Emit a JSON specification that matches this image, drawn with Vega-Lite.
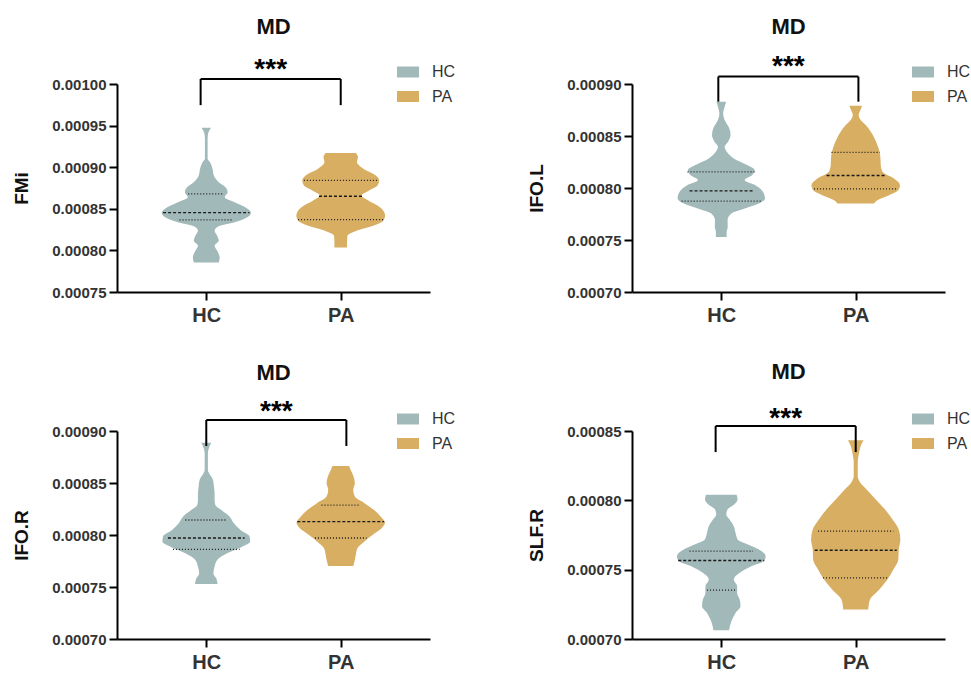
{
  "$schema": "https://vega.github.io/schema/vega-lite/v6.json",
  "padding": {"left": 12, "top": 16, "right": 0, "bottom": 0},
  "datasets": {
    "violin": [
      {"panel":"FMi","group":"HC","v":0.0009473,"w":0.035},
      {"panel":"FMi","group":"HC","v":0.0009404,"w":0.014},
      {"panel":"FMi","group":"HC","v":0.0009344,"w":0.010},
      {"panel":"FMi","group":"HC","v":0.0009223,"w":0.010},
      {"panel":"FMi","group":"HC","v":0.0009102,"w":0.010},
      {"panel":"FMi","group":"HC","v":0.0009062,"w":0.027},
      {"panel":"FMi","group":"HC","v":0.0008982,"w":0.046},
      {"panel":"FMi","group":"HC","v":0.0008901,"w":0.056},
      {"panel":"FMi","group":"HC","v":0.0008820,"w":0.093},
      {"panel":"FMi","group":"HC","v":0.0008760,"w":0.143},
      {"panel":"FMi","group":"HC","v":0.0008700,"w":0.159},
      {"panel":"FMi","group":"HC","v":0.0008639,"w":0.137},
      {"panel":"FMi","group":"HC","v":0.0008579,"w":0.210},
      {"panel":"FMi","group":"HC","v":0.0008519,"w":0.290},
      {"panel":"FMi","group":"HC","v":0.0008450,"w":0.332},
      {"panel":"FMi","group":"HC","v":0.0008398,"w":0.305},
      {"panel":"FMi","group":"HC","v":0.0008337,"w":0.211},
      {"panel":"FMi","group":"HC","v":0.0008289,"w":0.093},
      {"panel":"FMi","group":"HC","v":0.0008237,"w":0.062},
      {"panel":"FMi","group":"HC","v":0.0008176,"w":0.081},
      {"panel":"FMi","group":"HC","v":0.0008116,"w":0.093},
      {"panel":"FMi","group":"HC","v":0.0008056,"w":0.062},
      {"panel":"FMi","group":"HC","v":0.0007995,"w":0.081},
      {"panel":"FMi","group":"HC","v":0.0007915,"w":0.100},
      {"panel":"FMi","group":"HC","v":0.0007854,"w":0.092},
      {"panel":"FMi","group":"PA","v":0.0009171,"w":0.112},
      {"panel":"FMi","group":"PA","v":0.0009122,"w":0.128},
      {"panel":"FMi","group":"PA","v":0.0009062,"w":0.121},
      {"panel":"FMi","group":"PA","v":0.0008982,"w":0.168},
      {"panel":"FMi","group":"PA","v":0.0008901,"w":0.261},
      {"panel":"FMi","group":"PA","v":0.0008841,"w":0.286},
      {"panel":"FMi","group":"PA","v":0.0008780,"w":0.274},
      {"panel":"FMi","group":"PA","v":0.0008720,"w":0.211},
      {"panel":"FMi","group":"PA","v":0.0008659,"w":0.155},
      {"panel":"FMi","group":"PA","v":0.0008599,"w":0.205},
      {"panel":"FMi","group":"PA","v":0.0008519,"w":0.292},
      {"panel":"FMi","group":"PA","v":0.0008418,"w":0.330},
      {"panel":"FMi","group":"PA","v":0.0008357,"w":0.317},
      {"panel":"FMi","group":"PA","v":0.0008297,"w":0.243},
      {"panel":"FMi","group":"PA","v":0.0008237,"w":0.118},
      {"panel":"FMi","group":"PA","v":0.0008176,"w":0.050},
      {"panel":"FMi","group":"PA","v":0.0008096,"w":0.047},
      {"panel":"FMi","group":"PA","v":0.0008035,"w":0.047},

      {"panel":"IFO.L","group":"HC","v":0.0008830,"w":0.036},
      {"panel":"IFO.L","group":"HC","v":0.0008782,"w":0.025},
      {"panel":"IFO.L","group":"HC","v":0.0008717,"w":0.014},
      {"panel":"IFO.L","group":"HC","v":0.0008653,"w":0.025},
      {"panel":"IFO.L","group":"HC","v":0.0008573,"w":0.060},
      {"panel":"IFO.L","group":"HC","v":0.0008509,"w":0.069},
      {"panel":"IFO.L","group":"HC","v":0.0008445,"w":0.051},
      {"panel":"IFO.L","group":"HC","v":0.0008396,"w":0.025},
      {"panel":"IFO.L","group":"HC","v":0.0008348,"w":0.041},
      {"panel":"IFO.L","group":"HC","v":0.0008284,"w":0.093},
      {"panel":"IFO.L","group":"HC","v":0.0008220,"w":0.192},
      {"panel":"IFO.L","group":"HC","v":0.0008172,"w":0.248},
      {"panel":"IFO.L","group":"HC","v":0.0008124,"w":0.230},
      {"panel":"IFO.L","group":"HC","v":0.0008075,"w":0.174},
      {"panel":"IFO.L","group":"HC","v":0.0008027,"w":0.254},
      {"panel":"IFO.L","group":"HC","v":0.0007963,"w":0.310},
      {"panel":"IFO.L","group":"HC","v":0.0007899,"w":0.325},
      {"panel":"IFO.L","group":"HC","v":0.0007851,"w":0.279},
      {"panel":"IFO.L","group":"HC","v":0.0007803,"w":0.174},
      {"panel":"IFO.L","group":"HC","v":0.0007754,"w":0.074},
      {"panel":"IFO.L","group":"HC","v":0.0007690,"w":0.047},
      {"panel":"IFO.L","group":"HC","v":0.0007626,"w":0.048},
      {"panel":"IFO.L","group":"HC","v":0.0007578,"w":0.040},
      {"panel":"IFO.L","group":"HC","v":0.0007530,"w":0.040},
      {"panel":"IFO.L","group":"PA","v":0.0008791,"w":0.047},
      {"panel":"IFO.L","group":"PA","v":0.0008750,"w":0.035},
      {"panel":"IFO.L","group":"PA","v":0.0008701,"w":0.022},
      {"panel":"IFO.L","group":"PA","v":0.0008653,"w":0.037},
      {"panel":"IFO.L","group":"PA","v":0.0008605,"w":0.074},
      {"panel":"IFO.L","group":"PA","v":0.0008541,"w":0.112},
      {"panel":"IFO.L","group":"PA","v":0.0008477,"w":0.140},
      {"panel":"IFO.L","group":"PA","v":0.0008413,"w":0.161},
      {"panel":"IFO.L","group":"PA","v":0.0008348,"w":0.177},
      {"panel":"IFO.L","group":"PA","v":0.0008284,"w":0.184},
      {"panel":"IFO.L","group":"PA","v":0.0008220,"w":0.186},
      {"panel":"IFO.L","group":"PA","v":0.0008156,"w":0.199},
      {"panel":"IFO.L","group":"PA","v":0.0008091,"w":0.285},
      {"panel":"IFO.L","group":"PA","v":0.0008027,"w":0.329},
      {"panel":"IFO.L","group":"PA","v":0.0007979,"w":0.316},
      {"panel":"IFO.L","group":"PA","v":0.0007931,"w":0.248},
      {"panel":"IFO.L","group":"PA","v":0.0007883,"w":0.161},
      {"panel":"IFO.L","group":"PA","v":0.0007851,"w":0.136},

      {"panel":"IFO.R","group":"HC","v":0.0008888,"w":0.037},
      {"panel":"IFO.R","group":"HC","v":0.0008833,"w":0.019},
      {"panel":"IFO.R","group":"HC","v":0.0008785,"w":0.012},
      {"panel":"IFO.R","group":"HC","v":0.0008625,"w":0.012},
      {"panel":"IFO.R","group":"HC","v":0.0008593,"w":0.021},
      {"panel":"IFO.R","group":"HC","v":0.0008529,"w":0.050},
      {"panel":"IFO.R","group":"HC","v":0.0008465,"w":0.057},
      {"panel":"IFO.R","group":"HC","v":0.0008401,"w":0.062},
      {"panel":"IFO.R","group":"HC","v":0.0008337,"w":0.062},
      {"panel":"IFO.R","group":"HC","v":0.0008288,"w":0.067},
      {"panel":"IFO.R","group":"HC","v":0.0008240,"w":0.112},
      {"panel":"IFO.R","group":"HC","v":0.0008176,"w":0.174},
      {"panel":"IFO.R","group":"HC","v":0.0008112,"w":0.205},
      {"panel":"IFO.R","group":"HC","v":0.0008048,"w":0.254},
      {"panel":"IFO.R","group":"HC","v":0.0007984,"w":0.323},
      {"panel":"IFO.R","group":"HC","v":0.0007936,"w":0.326},
      {"panel":"IFO.R","group":"HC","v":0.0007888,"w":0.267},
      {"panel":"IFO.R","group":"HC","v":0.0007824,"w":0.155},
      {"panel":"IFO.R","group":"HC","v":0.0007760,"w":0.081},
      {"panel":"IFO.R","group":"HC","v":0.0007696,"w":0.062},
      {"panel":"IFO.R","group":"HC","v":0.0007631,"w":0.053},
      {"panel":"IFO.R","group":"HC","v":0.0007583,"w":0.074},
      {"panel":"IFO.R","group":"HC","v":0.0007529,"w":0.084},
      {"panel":"IFO.R","group":"PA","v":0.0008663,"w":0.062},
      {"panel":"IFO.R","group":"PA","v":0.0008625,"w":0.074},
      {"panel":"IFO.R","group":"PA","v":0.0008561,"w":0.096},
      {"panel":"IFO.R","group":"PA","v":0.0008497,"w":0.105},
      {"panel":"IFO.R","group":"PA","v":0.0008433,"w":0.093},
      {"panel":"IFO.R","group":"PA","v":0.0008369,"w":0.105},
      {"panel":"IFO.R","group":"PA","v":0.0008304,"w":0.180},
      {"panel":"IFO.R","group":"PA","v":0.0008240,"w":0.248},
      {"panel":"IFO.R","group":"PA","v":0.0008176,"w":0.298},
      {"panel":"IFO.R","group":"PA","v":0.0008119,"w":0.329},
      {"panel":"IFO.R","group":"PA","v":0.0008064,"w":0.304},
      {"panel":"IFO.R","group":"PA","v":0.0008000,"w":0.236},
      {"panel":"IFO.R","group":"PA","v":0.0007936,"w":0.174},
      {"panel":"IFO.R","group":"PA","v":0.0007872,"w":0.124},
      {"panel":"IFO.R","group":"PA","v":0.0007808,"w":0.112},
      {"panel":"IFO.R","group":"PA","v":0.0007760,"w":0.105},
      {"panel":"IFO.R","group":"PA","v":0.0007702,"w":0.093},

      {"panel":"SLF.R","group":"HC","v":0.0008040,"w":0.114},
      {"panel":"SLF.R","group":"HC","v":0.0008006,"w":0.121},
      {"panel":"SLF.R","group":"HC","v":0.0007970,"w":0.096},
      {"panel":"SLF.R","group":"HC","v":0.0007934,"w":0.046},
      {"panel":"SLF.R","group":"HC","v":0.0007898,"w":0.037},
      {"panel":"SLF.R","group":"HC","v":0.0007862,"w":0.062},
      {"panel":"SLF.R","group":"HC","v":0.0007814,"w":0.093},
      {"panel":"SLF.R","group":"HC","v":0.0007766,"w":0.106},
      {"panel":"SLF.R","group":"HC","v":0.0007718,"w":0.122},
      {"panel":"SLF.R","group":"HC","v":0.0007681,"w":0.199},
      {"panel":"SLF.R","group":"HC","v":0.0007645,"w":0.280},
      {"panel":"SLF.R","group":"HC","v":0.0007597,"w":0.330},
      {"panel":"SLF.R","group":"HC","v":0.0007561,"w":0.315},
      {"panel":"SLF.R","group":"HC","v":0.0007525,"w":0.224},
      {"panel":"SLF.R","group":"HC","v":0.0007477,"w":0.137},
      {"panel":"SLF.R","group":"HC","v":0.0007429,"w":0.093},
      {"panel":"SLF.R","group":"HC","v":0.0007380,"w":0.118},
      {"panel":"SLF.R","group":"HC","v":0.0007332,"w":0.118},
      {"panel":"SLF.R","group":"HC","v":0.0007284,"w":0.137},
      {"panel":"SLF.R","group":"HC","v":0.0007236,"w":0.143},
      {"panel":"SLF.R","group":"HC","v":0.0007188,"w":0.106},
      {"panel":"SLF.R","group":"HC","v":0.0007128,"w":0.075},
      {"panel":"SLF.R","group":"HC","v":0.0007063,"w":0.058},
      {"panel":"SLF.R","group":"PA","v":0.0008433,"w":0.058},
      {"panel":"SLF.R","group":"PA","v":0.0008392,"w":0.037},
      {"panel":"SLF.R","group":"PA","v":0.0008343,"w":0.025},
      {"panel":"SLF.R","group":"PA","v":0.0008271,"w":0.015},
      {"panel":"SLF.R","group":"PA","v":0.0008175,"w":0.015},
      {"panel":"SLF.R","group":"PA","v":0.0008127,"w":0.034},
      {"panel":"SLF.R","group":"PA","v":0.0008079,"w":0.081},
      {"panel":"SLF.R","group":"PA","v":0.0008006,"w":0.149},
      {"panel":"SLF.R","group":"PA","v":0.0007934,"w":0.218},
      {"panel":"SLF.R","group":"PA","v":0.0007862,"w":0.274},
      {"panel":"SLF.R","group":"PA","v":0.0007790,"w":0.320},
      {"panel":"SLF.R","group":"PA","v":0.0007718,"w":0.332},
      {"panel":"SLF.R","group":"PA","v":0.0007645,"w":0.320},
      {"panel":"SLF.R","group":"PA","v":0.0007573,"w":0.317},
      {"panel":"SLF.R","group":"PA","v":0.0007501,"w":0.280},
      {"panel":"SLF.R","group":"PA","v":0.0007429,"w":0.236},
      {"panel":"SLF.R","group":"PA","v":0.0007356,"w":0.174},
      {"panel":"SLF.R","group":"PA","v":0.0007284,"w":0.106},
      {"panel":"SLF.R","group":"PA","v":0.0007212,"w":0.093}
    ],
    "quartiles": [
      {"panel":"FMi","group":"HC","stat":"quartile","v":0.0008680,"w":0.134},
      {"panel":"FMi","group":"HC","stat":"median","v":0.0008454,"w":0.321},
      {"panel":"FMi","group":"HC","stat":"quartile","v":0.0008366,"w":0.199},
      {"panel":"FMi","group":"PA","stat":"quartile","v":0.0008841,"w":0.274},
      {"panel":"FMi","group":"PA","stat":"median","v":0.0008651,"w":0.162},
      {"panel":"FMi","group":"PA","stat":"quartile","v":0.0008370,"w":0.317},
      {"panel":"IFO.L","group":"HC","stat":"quartile","v":0.0008156,"w":0.251},
      {"panel":"IFO.L","group":"HC","stat":"median","v":0.0007973,"w":0.236},
      {"panel":"IFO.L","group":"HC","stat":"quartile","v":0.0007873,"w":0.295},
      {"panel":"IFO.L","group":"PA","stat":"quartile","v":0.0008342,"w":0.180},
      {"panel":"IFO.L","group":"PA","stat":"median","v":0.0008120,"w":0.217},
      {"panel":"IFO.L","group":"PA","stat":"quartile","v":0.0007992,"w":0.310},
      {"panel":"IFO.R","group":"HC","stat":"quartile","v":0.0008144,"w":0.155},
      {"panel":"IFO.R","group":"HC","stat":"median","v":0.0007971,"w":0.285},
      {"panel":"IFO.R","group":"HC","stat":"quartile","v":0.0007862,"w":0.248},
      {"panel":"IFO.R","group":"PA","stat":"quartile","v":0.0008288,"w":0.143},
      {"panel":"IFO.R","group":"PA","stat":"median","v":0.0008128,"w":0.323},
      {"panel":"IFO.R","group":"PA","stat":"quartile","v":0.0007971,"w":0.192},
      {"panel":"SLF.R","group":"HC","stat":"quartile","v":0.0007633,"w":0.236},
      {"panel":"SLF.R","group":"HC","stat":"median","v":0.0007566,"w":0.320},
      {"panel":"SLF.R","group":"HC","stat":"quartile","v":0.0007352,"w":0.106},
      {"panel":"SLF.R","group":"PA","stat":"quartile","v":0.0007778,"w":0.280},
      {"panel":"SLF.R","group":"PA","stat":"median","v":0.0007640,"w":0.305},
      {"panel":"SLF.R","group":"PA","stat":"quartile","v":0.0007441,"w":0.243}
    ],
    "brackets": [
      {"panel":"FMi","label":"***","xa":0.958,"xb":2.0,"top":0.001006,"bottom":0.0009746,"star":0.0010163},
      {"panel":"IFO.L","label":"***","xa":0.978,"xb":2.02,"top":0.0009071,"bottom":0.000883,"star":0.0009159},
      {"panel":"IFO.R","label":"***","xa":1.0,"xb":2.042,"top":0.0009106,"bottom":0.0008856,"star":0.0009178},
      {"panel":"SLF.R","label":"***","xa":0.958,"xb":2.0,"top":0.0008536,"bottom":0.0008348,"star":0.000859}
    ]
  },
  "columns": 2,
  "bounds": "flush",
  "spacing": {"row": 139, "column": 202},
  "resolve": {"scale": {"color": "independent", "x": "independent", "y": "independent"}, "legend": {"color": "independent"}},
  "concat": [
    {
      "width": 313, "height": 208,
      "title": {"text": "MD", "offset": 17},
      "layer": [
        {
          "data": {"name": "violin"},
          "transform": [{"filter": "datum.panel == 'FMi'"}, {"calculate": "(datum.group == 'HC' ? 1 : 2) - datum.w", "as": "lo"}, {"calculate": "(datum.group == 'HC' ? 1 : 2) + datum.w", "as": "hi"}],
          "mark": {"type": "area", "orient": "horizontal", "interpolate": "monotone"},
          "encoding": {
            "y": {"field": "v", "type": "quantitative", "title": "FMi", "scale": {"domain": [0.00075, 0.001], "nice": false, "zero": false}, "axis": {"title": "FMi", "values": [0.00075, 0.0008, 0.00085, 0.0009, 0.00095, 0.001], "format": ".5f"}},
            "x": {"field": "lo", "type": "quantitative", "title": null, "stack": null, "scale": {"domain": [0.336, 2.664], "nice": false, "zero": false}, "axis": {"title": null, "values": [1, 2], "labelExpr": "datum.value == 1 ? 'HC' : 'PA'"}},
            "x2": {"field": "hi"},
            "color": {"field": "group", "type": "nominal", "scale": {"domain": ["HC", "PA"], "range": ["#a2b9b9", "#d8ae62"]}, "legend": {"title": null, "orient": "none", "legendX": 280, "legendY": -23}}
          }
        },
        {
          "data": {"name": "quartiles"},
          "transform": [{"filter": "datum.panel == 'FMi'"}, {"calculate": "(datum.group == 'HC' ? 1 : 2) - datum.w", "as": "lo"}, {"calculate": "(datum.group == 'HC' ? 1 : 2) + datum.w", "as": "hi"}],
          "mark": {"type": "rule", "color": "#1a1a1a", "strokeWidth": 1.3},
          "encoding": {
            "y": {"field": "v", "type": "quantitative", "title": "FMi", "scale": {"domain": [0.00075, 0.001], "nice": false, "zero": false}},
            "x": {"field": "lo", "type": "quantitative", "title": null, "scale": {"domain": [0.336, 2.664], "nice": false, "zero": false}},
            "x2": {"field": "hi"},
            "strokeDash": {"field": "stat", "type": "nominal", "scale": {"domain": ["median", "quartile"], "range": [[3, 2], [1, 2]]}, "legend": null}
          }
        },
        {
          "data": {"name": "brackets"},
          "transform": [{"filter": "datum.panel == 'FMi'"}, {"calculate": "(datum.xa + datum.xb) / 2", "as": "xm"}],
          "layer": [
            {"mark": {"type": "rule", "color": "#000", "strokeWidth": 2}, "encoding": {"x": {"field": "xa", "type": "quantitative", "title": null}, "x2": {"field": "xb"}, "y": {"field": "top", "type": "quantitative", "title": "FMi"}}},
            {"mark": {"type": "rule", "color": "#000", "strokeWidth": 2}, "encoding": {"x": {"field": "xa", "type": "quantitative", "title": null}, "y": {"field": "top", "type": "quantitative", "title": "FMi"}, "y2": {"field": "bottom"}}},
            {"mark": {"type": "rule", "color": "#000", "strokeWidth": 2}, "encoding": {"x": {"field": "xb", "type": "quantitative", "title": null}, "y": {"field": "top", "type": "quantitative", "title": "FMi"}, "y2": {"field": "bottom"}}},
            {"mark": {"type": "text", "font": "Liberation Sans", "fontWeight": "bold", "fontSize": 28, "color": "#000", "baseline": "middle", "align": "center"}, "encoding": {"x": {"field": "xm", "type": "quantitative", "title": null}, "y": {"field": "star", "type": "quantitative", "title": "FMi"}, "text": {"field": "label"}}}
          ]
        }
      ]
    },
    {
      "width": 313, "height": 208,
      "title": {"text": "MD", "offset": 14},
      "layer": [
        {
          "data": {"name": "violin"},
          "transform": [{"filter": "datum.panel == 'IFO.L'"}, {"calculate": "(datum.group == 'HC' ? 1 : 2) - datum.w", "as": "lo"}, {"calculate": "(datum.group == 'HC' ? 1 : 2) + datum.w", "as": "hi"}],
          "mark": {"type": "area", "orient": "horizontal", "interpolate": "monotone"},
          "encoding": {
            "y": {"field": "v", "type": "quantitative", "title": "IFO.L", "scale": {"domain": [0.0007, 0.0009], "nice": false, "zero": false}, "axis": {"title": "IFO.L", "values": [0.0007, 0.00075, 0.0008, 0.00085, 0.0009], "format": ".5f"}},
            "x": {"field": "lo", "type": "quantitative", "title": null, "stack": null, "scale": {"domain": [0.336, 2.664], "nice": false, "zero": false}, "axis": {"title": null, "values": [1, 2], "labelExpr": "datum.value == 1 ? 'HC' : 'PA'"}},
            "x2": {"field": "hi"},
            "color": {"field": "group", "type": "nominal", "scale": {"domain": ["HC", "PA"], "range": ["#a2b9b9", "#d8ae62"]}, "legend": {"title": null, "orient": "none", "legendX": 280, "legendY": -23}}
          }
        },
        {
          "data": {"name": "quartiles"},
          "transform": [{"filter": "datum.panel == 'IFO.L'"}, {"calculate": "(datum.group == 'HC' ? 1 : 2) - datum.w", "as": "lo"}, {"calculate": "(datum.group == 'HC' ? 1 : 2) + datum.w", "as": "hi"}],
          "mark": {"type": "rule", "color": "#1a1a1a", "strokeWidth": 1.3},
          "encoding": {
            "y": {"field": "v", "type": "quantitative", "title": "IFO.L", "scale": {"domain": [0.0007, 0.0009], "nice": false, "zero": false}},
            "x": {"field": "lo", "type": "quantitative", "title": null, "scale": {"domain": [0.336, 2.664], "nice": false, "zero": false}},
            "x2": {"field": "hi"},
            "strokeDash": {"field": "stat", "type": "nominal", "scale": {"domain": ["median", "quartile"], "range": [[3, 2], [1, 2]]}, "legend": null}
          }
        },
        {
          "data": {"name": "brackets"},
          "transform": [{"filter": "datum.panel == 'IFO.L'"}, {"calculate": "(datum.xa + datum.xb) / 2", "as": "xm"}],
          "layer": [
            {"mark": {"type": "rule", "color": "#000", "strokeWidth": 2}, "encoding": {"x": {"field": "xa", "type": "quantitative", "title": null}, "x2": {"field": "xb"}, "y": {"field": "top", "type": "quantitative", "title": "IFO.L"}}},
            {"mark": {"type": "rule", "color": "#000", "strokeWidth": 2}, "encoding": {"x": {"field": "xa", "type": "quantitative", "title": null}, "y": {"field": "top", "type": "quantitative", "title": "IFO.L"}, "y2": {"field": "bottom"}}},
            {"mark": {"type": "rule", "color": "#000", "strokeWidth": 2}, "encoding": {"x": {"field": "xb", "type": "quantitative", "title": null}, "y": {"field": "top", "type": "quantitative", "title": "IFO.L"}, "y2": {"field": "bottom"}}},
            {"mark": {"type": "text", "font": "Liberation Sans", "fontWeight": "bold", "fontSize": 28, "color": "#000", "baseline": "middle", "align": "center"}, "encoding": {"x": {"field": "xm", "type": "quantitative", "title": null}, "y": {"field": "star", "type": "quantitative", "title": "IFO.L"}, "text": {"field": "label"}}}
          ]
        }
      ]
    },
    {
      "width": 313, "height": 208,
      "title": {"text": "MD", "offset": 13},
      "layer": [
        {
          "data": {"name": "violin"},
          "transform": [{"filter": "datum.panel == 'IFO.R'"}, {"calculate": "(datum.group == 'HC' ? 1 : 2) - datum.w", "as": "lo"}, {"calculate": "(datum.group == 'HC' ? 1 : 2) + datum.w", "as": "hi"}],
          "mark": {"type": "area", "orient": "horizontal", "interpolate": "monotone"},
          "encoding": {
            "y": {"field": "v", "type": "quantitative", "title": "IFO.R", "scale": {"domain": [0.0007, 0.0009], "nice": false, "zero": false}, "axis": {"title": "IFO.R", "values": [0.0007, 0.00075, 0.0008, 0.00085, 0.0009], "format": ".5f"}},
            "x": {"field": "lo", "type": "quantitative", "title": null, "stack": null, "scale": {"domain": [0.336, 2.664], "nice": false, "zero": false}, "axis": {"title": null, "values": [1, 2], "labelExpr": "datum.value == 1 ? 'HC' : 'PA'"}},
            "x2": {"field": "hi"},
            "color": {"field": "group", "type": "nominal", "scale": {"domain": ["HC", "PA"], "range": ["#a2b9b9", "#d8ae62"]}, "legend": {"title": null, "orient": "none", "legendX": 280, "legendY": -23}}
          }
        },
        {
          "data": {"name": "quartiles"},
          "transform": [{"filter": "datum.panel == 'IFO.R'"}, {"calculate": "(datum.group == 'HC' ? 1 : 2) - datum.w", "as": "lo"}, {"calculate": "(datum.group == 'HC' ? 1 : 2) + datum.w", "as": "hi"}],
          "mark": {"type": "rule", "color": "#1a1a1a", "strokeWidth": 1.3},
          "encoding": {
            "y": {"field": "v", "type": "quantitative", "title": "IFO.R", "scale": {"domain": [0.0007, 0.0009], "nice": false, "zero": false}},
            "x": {"field": "lo", "type": "quantitative", "title": null, "scale": {"domain": [0.336, 2.664], "nice": false, "zero": false}},
            "x2": {"field": "hi"},
            "strokeDash": {"field": "stat", "type": "nominal", "scale": {"domain": ["median", "quartile"], "range": [[3, 2], [1, 2]]}, "legend": null}
          }
        },
        {
          "data": {"name": "brackets"},
          "transform": [{"filter": "datum.panel == 'IFO.R'"}, {"calculate": "(datum.xa + datum.xb) / 2", "as": "xm"}],
          "layer": [
            {"mark": {"type": "rule", "color": "#000", "strokeWidth": 2}, "encoding": {"x": {"field": "xa", "type": "quantitative", "title": null}, "x2": {"field": "xb"}, "y": {"field": "top", "type": "quantitative", "title": "IFO.R"}}},
            {"mark": {"type": "rule", "color": "#000", "strokeWidth": 2}, "encoding": {"x": {"field": "xa", "type": "quantitative", "title": null}, "y": {"field": "top", "type": "quantitative", "title": "IFO.R"}, "y2": {"field": "bottom"}}},
            {"mark": {"type": "rule", "color": "#000", "strokeWidth": 2}, "encoding": {"x": {"field": "xb", "type": "quantitative", "title": null}, "y": {"field": "top", "type": "quantitative", "title": "IFO.R"}, "y2": {"field": "bottom"}}},
            {"mark": {"type": "text", "font": "Liberation Sans", "fontWeight": "bold", "fontSize": 28, "color": "#000", "baseline": "middle", "align": "center"}, "encoding": {"x": {"field": "xm", "type": "quantitative", "title": null}, "y": {"field": "star", "type": "quantitative", "title": "IFO.R"}, "text": {"field": "label"}}}
          ]
        }
      ]
    },
    {
      "width": 313, "height": 208,
      "title": {"text": "MD", "offset": 21},
      "layer": [
        {
          "data": {"name": "violin"},
          "transform": [{"filter": "datum.panel == 'SLF.R'"}, {"calculate": "(datum.group == 'HC' ? 1 : 2) - datum.w", "as": "lo"}, {"calculate": "(datum.group == 'HC' ? 1 : 2) + datum.w", "as": "hi"}],
          "mark": {"type": "area", "orient": "horizontal", "interpolate": "monotone"},
          "encoding": {
            "y": {"field": "v", "type": "quantitative", "title": "SLF.R", "scale": {"domain": [0.0007, 0.00085], "nice": false, "zero": false}, "axis": {"title": "SLF.R", "values": [0.0007, 0.00075, 0.0008, 0.00085], "format": ".5f"}},
            "x": {"field": "lo", "type": "quantitative", "title": null, "stack": null, "scale": {"domain": [0.336, 2.664], "nice": false, "zero": false}, "axis": {"title": null, "values": [1, 2], "labelExpr": "datum.value == 1 ? 'HC' : 'PA'"}},
            "x2": {"field": "hi"},
            "color": {"field": "group", "type": "nominal", "scale": {"domain": ["HC", "PA"], "range": ["#a2b9b9", "#d8ae62"]}, "legend": {"title": null, "orient": "none", "legendX": 280, "legendY": -23}}
          }
        },
        {
          "data": {"name": "quartiles"},
          "transform": [{"filter": "datum.panel == 'SLF.R'"}, {"calculate": "(datum.group == 'HC' ? 1 : 2) - datum.w", "as": "lo"}, {"calculate": "(datum.group == 'HC' ? 1 : 2) + datum.w", "as": "hi"}],
          "mark": {"type": "rule", "color": "#1a1a1a", "strokeWidth": 1.3},
          "encoding": {
            "y": {"field": "v", "type": "quantitative", "title": "SLF.R", "scale": {"domain": [0.0007, 0.00085], "nice": false, "zero": false}},
            "x": {"field": "lo", "type": "quantitative", "title": null, "scale": {"domain": [0.336, 2.664], "nice": false, "zero": false}},
            "x2": {"field": "hi"},
            "strokeDash": {"field": "stat", "type": "nominal", "scale": {"domain": ["median", "quartile"], "range": [[3, 2], [1, 2]]}, "legend": null}
          }
        },
        {
          "data": {"name": "brackets"},
          "transform": [{"filter": "datum.panel == 'SLF.R'"}, {"calculate": "(datum.xa + datum.xb) / 2", "as": "xm"}],
          "layer": [
            {"mark": {"type": "rule", "color": "#000", "strokeWidth": 2}, "encoding": {"x": {"field": "xa", "type": "quantitative", "title": null}, "x2": {"field": "xb"}, "y": {"field": "top", "type": "quantitative", "title": "SLF.R"}}},
            {"mark": {"type": "rule", "color": "#000", "strokeWidth": 2}, "encoding": {"x": {"field": "xa", "type": "quantitative", "title": null}, "y": {"field": "top", "type": "quantitative", "title": "SLF.R"}, "y2": {"field": "bottom"}}},
            {"mark": {"type": "rule", "color": "#000", "strokeWidth": 2}, "encoding": {"x": {"field": "xb", "type": "quantitative", "title": null}, "y": {"field": "top", "type": "quantitative", "title": "SLF.R"}, "y2": {"field": "bottom"}}},
            {"mark": {"type": "text", "font": "Liberation Sans", "fontWeight": "bold", "fontSize": 28, "color": "#000", "baseline": "middle", "align": "center"}, "encoding": {"x": {"field": "xm", "type": "quantitative", "title": null}, "y": {"field": "star", "type": "quantitative", "title": "SLF.R"}, "text": {"field": "label"}}}
          ]
        }
      ]
    }
  ],
  "config": {
    "view": {"stroke": null},
    "font": "Liberation Sans",
    "axis": {"grid": false, "domainColor": "#000", "domainWidth": 2, "tickColor": "#000", "tickWidth": 2, "tickSize": 8, "labelFont": "Liberation Sans", "labelFontWeight": "bold", "labelColor": "#333", "titleFont": "Liberation Sans", "titleFontWeight": "bold", "titleColor": "#111", "titleFontSize": 19},
    "axisY": {"labelFontSize": 15, "labelPadding": 3, "titlePadding": 20},
    "axisX": {"labelFontSize": 20, "labelPadding": 5},
    "legend": {"symbolType": "M-1,-0.5H1V0.5H-1Z", "symbolSize": 484, "symbolStrokeWidth": 0, "labelFont": "Liberation Sans", "labelFontSize": 16, "labelColor": "#333", "labelOffset": 13, "rowPadding": 5.5, "padding": 0},
    "title": {"font": "Liberation Sans", "fontSize": 22, "fontWeight": "bold", "color": "#111"}
  }
}
